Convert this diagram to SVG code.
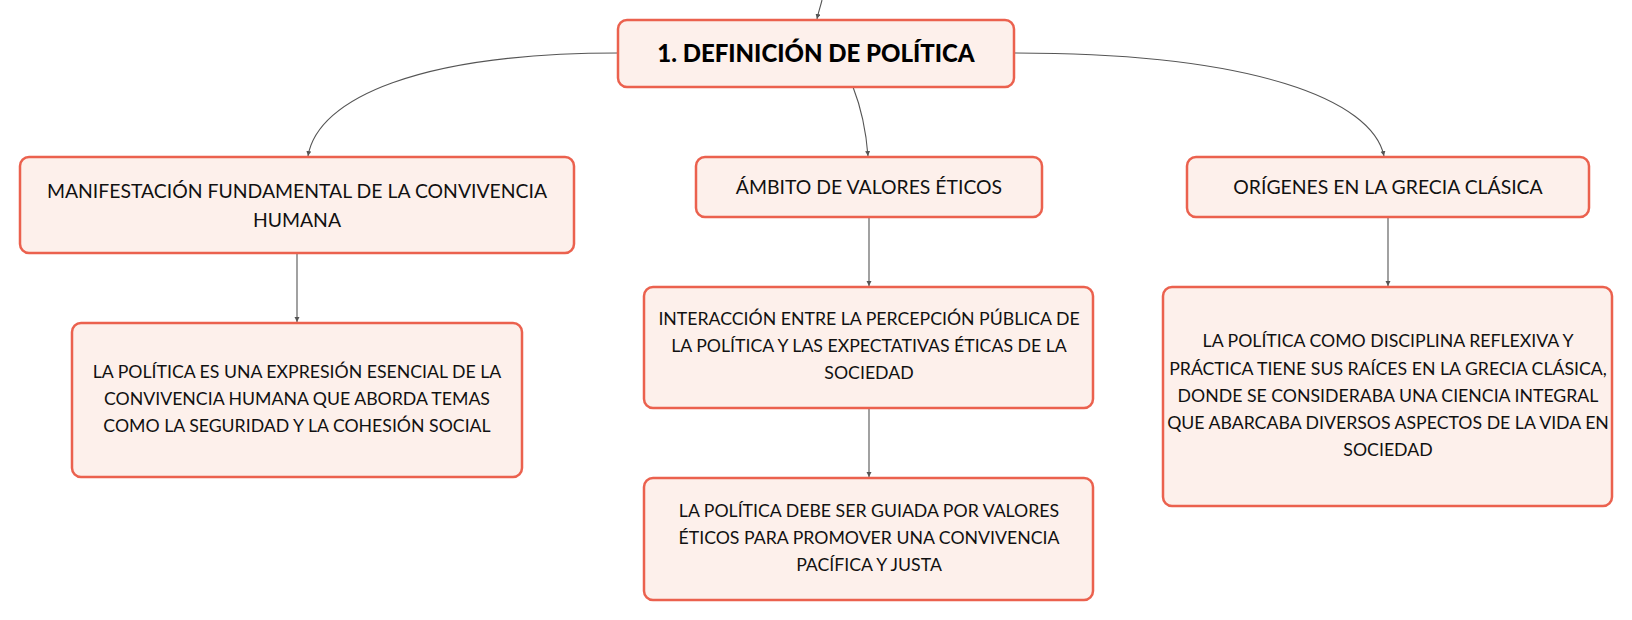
<svg xmlns="http://www.w3.org/2000/svg" width="1632" height="620" viewBox="0 0 1632 620">
<defs>
<style>
.box{fill:#fdf0eb;stroke:#eb614e;stroke-width:2.5}
.t{font-family:Lato,"Open Sans","Liberation Sans",sans-serif;font-size:17.7px;fill:#111;text-anchor:middle}
.t1{font-family:Lato,"Open Sans","Liberation Sans",sans-serif;font-size:19.4px;fill:#111;text-anchor:middle}
.title{font-family:Lato,"Open Sans","Liberation Sans",sans-serif;font-size:24px;font-weight:900;fill:#000;text-anchor:middle}
.c{fill:none;stroke:#555;stroke-width:1.1}
</style>
<marker id="arr" markerWidth="8" markerHeight="8" refX="5" refY="2.5" orient="auto" markerUnits="userSpaceOnUse">
<path d="M0,0 L5,2.5 L0,5 Z" fill="#555"/>
</marker>
</defs>
<rect width="1632" height="620" fill="#fff"/>
<g id="connectors">
<path class="c" d="M822,0 C820,8 818,14 817,19" marker-end="url(#arr)"/>
<path class="c" d="M618,53 C420,53 318,98 308,156" marker-end="url(#arr)"/>
<path class="c" d="M853,87 C862,110 866,130 868,156" marker-end="url(#arr)"/>
<path class="c" d="M1014,53 C1255,53 1372,100 1384,156" marker-end="url(#arr)"/>
<path class="c" d="M297,253 L297,322" marker-end="url(#arr)"/>
<path class="c" d="M869,217 L869,286" marker-end="url(#arr)"/>
<path class="c" d="M869,408 L869,477" marker-end="url(#arr)"/>
<path class="c" d="M1388,217 L1388,286" marker-end="url(#arr)"/>
</g>
<g id="root">
<rect class="box" x="618" y="20" width="396" height="67" rx="9"/>
<text class="title" x="816" y="62">1. DEFINICIÓN DE POLÍTICA</text>
</g>
<g id="manifestacion">
<rect class="box" x="20" y="157" width="554" height="96" rx="9"/>
<text class="t1" x="297" y="198">MANIFESTACIÓN FUNDAMENTAL DE LA CONVIVENCIA</text>
<text class="t1" x="297" y="227">HUMANA</text>
</g>
<g id="ambito">
<rect class="box" x="696" y="157" width="346" height="60" rx="9"/>
<text class="t1" x="869" y="194">ÁMBITO DE VALORES ÉTICOS</text>
</g>
<g id="origenes">
<rect class="box" x="1187" y="157" width="402" height="60" rx="9"/>
<text class="t1" x="1388" y="194">ORÍGENES EN LA GRECIA CLÁSICA</text>
</g>
<g id="expresion">
<rect class="box" x="72" y="323" width="450" height="154" rx="9"/>
<text class="t" x="297" y="378">LA POLÍTICA ES UNA EXPRESIÓN ESENCIAL DE LA</text>
<text class="t" x="297" y="405">CONVIVENCIA HUMANA QUE ABORDA TEMAS</text>
<text class="t" x="297" y="432">COMO LA SEGURIDAD Y LA COHESIÓN SOCIAL</text>
</g>
<g id="interaccion">
<rect class="box" x="644" y="287" width="449" height="121" rx="9"/>
<text class="t" x="869" y="325">INTERACCIÓN ENTRE LA PERCEPCIÓN PÚBLICA DE</text>
<text class="t" x="869" y="352">LA POLÍTICA Y LAS EXPECTATIVAS ÉTICAS DE LA</text>
<text class="t" x="869" y="379">SOCIEDAD</text>
</g>
<g id="guiada">
<rect class="box" x="644" y="478" width="449" height="122" rx="9"/>
<text class="t" x="869" y="517">LA POLÍTICA DEBE SER GUIADA POR VALORES</text>
<text class="t" x="869" y="544">ÉTICOS PARA PROMOVER UNA CONVIVENCIA</text>
<text class="t" x="869" y="571">PACÍFICA Y JUSTA</text>
</g>
<g id="disciplina">
<rect class="box" x="1163" y="287" width="449" height="219" rx="9"/>
<text class="t" x="1388" y="347">LA POLÍTICA COMO DISCIPLINA REFLEXIVA Y</text>
<text class="t" x="1388" y="375">PRÁCTICA TIENE SUS RAÍCES EN LA GRECIA CLÁSICA,</text>
<text class="t" x="1388" y="402">DONDE SE CONSIDERABA UNA CIENCIA INTEGRAL</text>
<text class="t" x="1388" y="429">QUE ABARCABA DIVERSOS ASPECTOS DE LA VIDA EN</text>
<text class="t" x="1388" y="456">SOCIEDAD</text>
</g>
</svg>
